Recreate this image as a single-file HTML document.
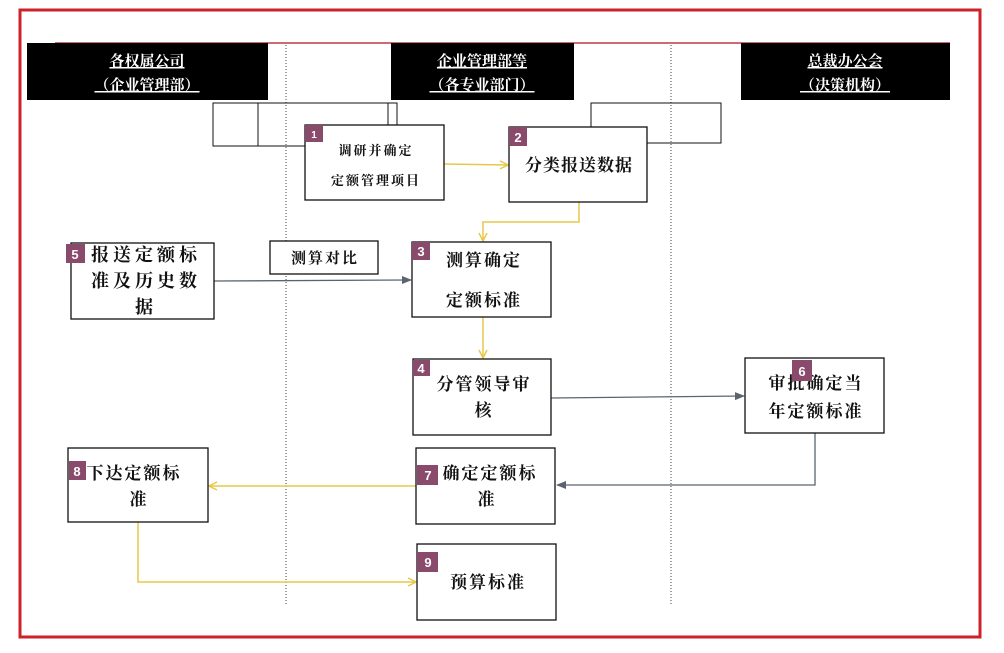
<!DOCTYPE html>
<html><head><meta charset="utf-8"><style>
body{margin:0;background:#fff;}
svg{display:block;font-family:"Liberation Serif","Noto Serif CJK SC",serif;}
.t{font-weight:bold;fill:#111;text-anchor:middle;letter-spacing:2px;}
.b{fill:#fff;stroke:#111;stroke-width:1.3;}
.bd{fill:#8a4a6c;}
.bn{fill:#fff;font-weight:bold;font-size:13px;text-anchor:middle;font-family:"Liberation Sans",sans-serif;letter-spacing:0;}
.h{fill:#fff;font-weight:bold;font-size:15px;text-anchor:middle;text-decoration:underline;}
</style></head><body>
<svg width="1004" height="653" viewBox="0 0 1004 653">
<defs>
<marker id="ay" markerWidth="10" markerHeight="10" refX="9" refY="5" orient="auto" markerUnits="userSpaceOnUse"><path d="M1,1 L9,5 L1,9" fill="none" stroke="#e8c84a" stroke-width="1.5"/></marker>
<marker id="ag" markerWidth="10" markerHeight="10" refX="9" refY="5" orient="auto" markerUnits="userSpaceOnUse"><path d="M0,1 L10,5 L0,9 Z" fill="#5a6470"/></marker>
</defs>
<rect x="20" y="10" width="960" height="627" fill="none" stroke="#cc2229" stroke-width="3"/>
<line x1="55" y1="43" x2="950" y2="43" stroke="#b01020" stroke-width="1.2"/>
<line x1="286" y1="45" x2="286" y2="605" stroke="#444" stroke-width="1" stroke-dasharray="1,2"/>
<line x1="671" y1="45" x2="671" y2="605" stroke="#444" stroke-width="1" stroke-dasharray="1,2"/>
<rect x="27" y="43" width="241" height="57" fill="#000"/>
<rect x="391" y="43" width="183" height="57" fill="#000"/>
<rect x="741" y="43" width="209" height="57" fill="#000"/>
<text class="h" x="147" y="66">各权属公司</text><text class="h" x="147" y="90">（企业管理部）</text>
<text class="h" x="482" y="66">企业管理部等</text><text class="h" x="482" y="90">（各专业部门）</text>
<text class="h" x="845" y="66">总裁办公会</text><text class="h" x="845" y="90">（决策机构）</text>
<rect x="213" y="103" width="184" height="43" fill="none" stroke="#111"/>
<line x1="258" y1="103" x2="258" y2="146" stroke="#111"/>
<line x1="388" y1="103" x2="388" y2="126" stroke="#111"/>
<rect x="591" y="103" width="130" height="40" fill="none" stroke="#111"/>
<line x1="444" y1="164" x2="508" y2="165" stroke="#e8c84a" stroke-width="1.5" marker-end="url(#ay)"/>
<polyline points="579,202 579,222 483,222 483,241" fill="none" stroke="#e8c84a" stroke-width="1.5" marker-end="url(#ay)"/>
<line x1="483" y1="317" x2="483" y2="358" stroke="#e8c84a" stroke-width="1.5" marker-end="url(#ay)"/>
<line x1="416" y1="486" x2="209" y2="486" stroke="#e8c84a" stroke-width="1.5" marker-end="url(#ay)"/>
<polyline points="138,522 138,582 416,582" fill="none" stroke="#e8c84a" stroke-width="1.5" marker-end="url(#ay)"/>
<line x1="214" y1="281" x2="411" y2="280" stroke="#5a6470" stroke-width="1.3" marker-end="url(#ag)"/>
<line x1="551" y1="398" x2="744" y2="396" stroke="#5a6470" stroke-width="1.3" marker-end="url(#ag)"/>
<polyline points="815,433 815,485 557,485" fill="none" stroke="#5a6470" stroke-width="1.3" marker-end="url(#ag)"/>
<rect class="b" x="305" y="125" width="139" height="75"/>
<rect class="bd" x="305" y="125" width="18" height="17"/><text class="bn" x="314" y="138" style="font-size:10px">1</text>
<text class="t" x="376" y="155" font-size="13">调研并确定</text><text class="t" x="376" y="185" font-size="13">定额管理项目</text>
<rect class="b" x="509" y="127" width="138" height="75"/>
<rect class="bd" x="509" y="127" width="18" height="19"/><text class="bn" x="518" y="142">2</text>
<text class="t" x="579" y="171" font-size="17" style="letter-spacing:1px">分类报送数据</text>
<rect class="b" x="412" y="242" width="139" height="75"/>
<rect class="bd" x="412" y="242" width="18" height="18"/><text class="bn" x="421" y="256">3</text>
<text class="t" x="484" y="266" font-size="17">测算确定</text><text class="t" x="484" y="306" font-size="17">定额标准</text>
<rect class="b" x="71" y="243" width="143" height="76"/>
<rect class="bd" x="66" y="244" width="19" height="19"/><text class="bn" x="75" y="259">5</text>
<text class="t" x="146" y="261" font-size="18" style="letter-spacing:4px">报送定额标</text><text class="t" x="146" y="287" font-size="18" style="letter-spacing:4px">准及历史数</text><text class="t" x="145" y="313" font-size="18">据</text>
<rect class="b" x="270" y="241" width="108" height="33"/>
<text class="t" x="325" y="263" font-size="15">测算对比</text>
<rect class="b" x="413" y="359" width="138" height="76"/>
<rect class="bd" x="413" y="360" width="17" height="16"/><text class="bn" x="421" y="373">4</text>
<text class="t" x="484" y="390" font-size="17">分管领导审</text><text class="t" x="484" y="416" font-size="17">核</text>
<rect class="b" x="745" y="358" width="139" height="75"/>
<text class="t" x="816" y="389" font-size="17">审批确定当</text><text class="t" x="816" y="417" font-size="17">年定额标准</text>
<rect class="bd" x="792" y="360" width="20" height="21"/><text class="bn" x="802" y="376">6</text>
<rect class="b" x="416" y="448" width="139" height="76"/>
<text class="t" x="490" y="479" font-size="17">确定定额标</text><text class="t" x="487" y="505" font-size="17">准</text>
<rect class="bd" x="417" y="465" width="21" height="20"/><text class="bn" x="428" y="480">7</text>
<rect class="b" x="68" y="448" width="140" height="74"/>
<rect class="bd" x="69" y="461" width="17" height="19"/><text class="bn" x="77" y="476">8</text>
<text class="t" x="134" y="479" font-size="17">下达定额标</text><text class="t" x="139" y="505" font-size="17">准</text>
<rect class="b" x="417" y="544" width="139" height="76"/>
<rect class="bd" x="417" y="552" width="21" height="20"/><text class="bn" x="428" y="567">9</text>
<text class="t" x="488" y="588" font-size="17">预算标准</text>
</svg>
</body></html>
